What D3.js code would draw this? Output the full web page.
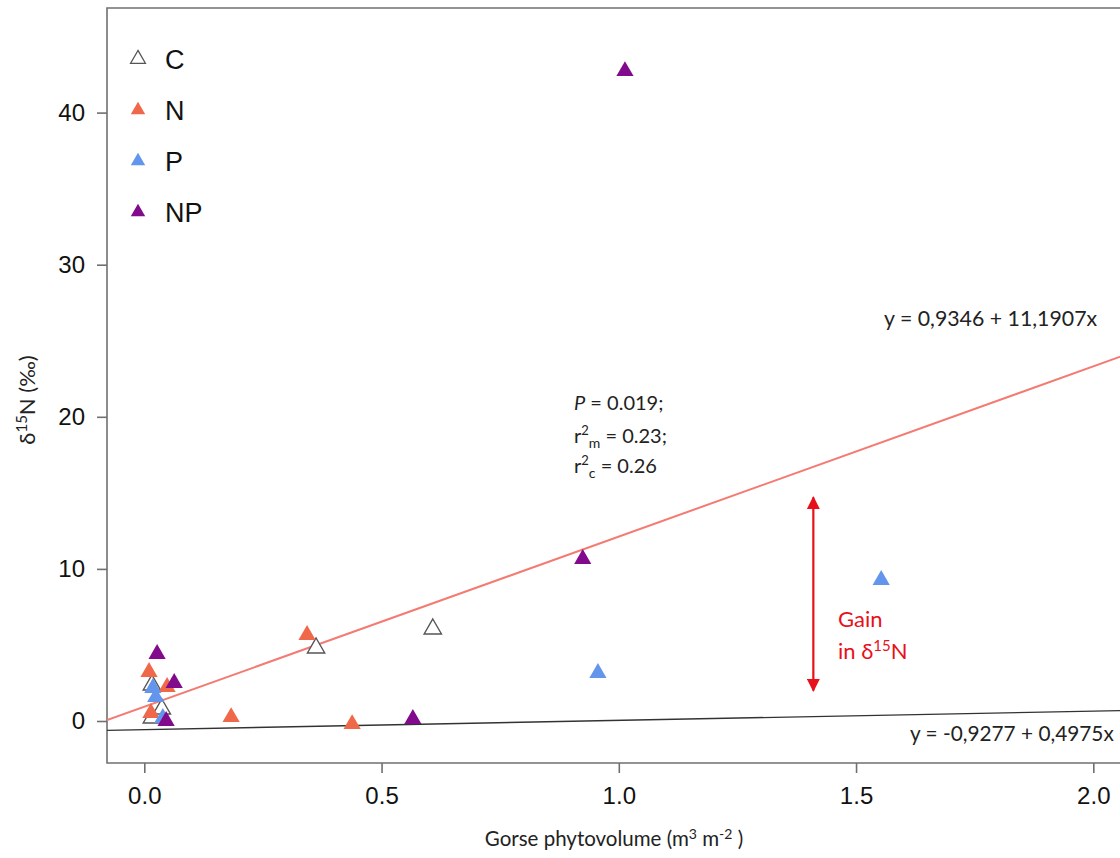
<!DOCTYPE html>
<html><head><meta charset="utf-8">
<script src="https://cdn.jsdelivr.net/npm/d3@7"></script>
<style>body{margin:0;background:#fff}svg{display:block}</style>
</head><body><svg id="c" width="1120" height="858"></svg>
<script>
// ---- data ----
const groups = ["C", "N", "P", "NP"];
const colors = ["#ffffff", "#f0684a", "#6495ed", "#820a8c"];
const cX = [0.362, 0.608, 0.016, 0.037, 0.016];
const cY = [4.93, 6.18, 2.5, 0.92, 0.33];
const nX = [0.343, 0.183, 0.438, 0.010, 0.048, 0.014];
const nY = [5.79, 0.39, -0.07, 3.35, 2.37, 0.66];
const pX = [1.553, 0.956, 0.018, 0.024, 0.039];
const pY = [9.4, 3.29, 2.3, 1.7, 0.33];
const npX = [1.013, 0.924, 0.566, 0.027, 0.063, 0.046];
const npY = [42.86, 10.78, 0.26, 4.54, 2.63, 0.13];
const xTicks = [0, 0.5, 1.0, 1.5, 2.0];
const yTicks = [0, 10, 20, 30, 40];
const fitNP = [0.9346, 11.1907];   // red fitted line (intercept, slope)
const fitC = [-0.57, 0.61];        // black line as drawn
const eqNP = "y = 0,9346 + 11,1907x";
const eqC = "y = -0,9277 + 0,4975x";
const stats = ["P = 0.019;", "r2m = 0.23;", "r2c = 0.26"];
const gainArrow = [2, 14.7];       // y extent of arrow at x=1.41

const series = [[cX, cY], [nX, nY], [pX, pY], [npX, npY]];

const svg = d3.select("#c");
const L = 107, T = 8, B = 763;
const x = d3.scaleLinear().domain([0, 2]).range([144.3, 1093.3]);
const y = d3.scaleLinear().domain([0, 40]).range([721, 112.6]);
const xMin = x.invert(L), xMax = x.invert(1140);

// frame
const frame = svg.append("g").attr("stroke", "#707070").attr("stroke-width", 1.6).attr("fill", "none");
frame.append("path").attr("d", `M1140,${T}H${L}V${B}H1140`);

// axes
const fontAx = "Liberation Sans, Arial, sans-serif";
const xa = svg.append("g").attr("transform", `translate(0,${B})`)
  .call(d3.axisBottom(x).tickValues(xTicks).tickFormat(d3.format(".1f")).tickSize(10).tickPadding(14));
const ya = svg.append("g").attr("transform", `translate(${L},0)`)
  .call(d3.axisLeft(y).tickValues(yTicks).tickSize(10).tickPadding(12));
[xa, ya].forEach(a => {
  a.select(".domain").remove();
  a.selectAll(".tick line").attr("stroke", "#707070").attr("stroke-width", 1.6);
  a.selectAll(".tick text").attr("font-family", fontAx).attr("font-size", 24).attr("fill", "#111");
});
xa.selectAll(".tick text").attr("dy", "0.71em");

// clip for plotting region
svg.append("clipPath").attr("id", "pc").append("rect").attr("x", L).attr("y", T).attr("width", 1120 - L).attr("height", B - T);
const plot = svg.append("g").attr("clip-path", "url(#pc)");

// regression lines
const line = d3.line().x(d => x(d[0])).y(d => y(d[1]));
plot.append("path").attr("d", line([xMin, xMax].map(v => [v, fitNP[0] + fitNP[1] * v])))
  .attr("stroke", "#f47a72").attr("stroke-width", 2).attr("fill", "none");
plot.append("path").attr("d", line([xMin, xMax].map(v => [v, fitC[0] + fitC[1] * v])))
  .attr("stroke", "#333").attr("stroke-width", 1.4).attr("fill", "none");

// points
const tri = d3.symbol().type(d3.symbolTriangle);
series.forEach((s, i) => {
  const pts = s[0].map((v, k) => [v, s[1][k]]);
  plot.append("g").selectAll("path").data(pts).join("path")
    .attr("transform", d => `translate(${x(d[0])},${y(d[1]) + 2})`)
    .attr("d", tri.size(i === 0 ? 130 : 128)())
    .attr("fill", colors[i])
    .attr("stroke", i === 0 ? "#555" : "none")
    .attr("stroke-width", 1.4);
});

// legend
const leg = svg.append("g");
groups.forEach((g, i) => {
  const cy = 59 + i * 51;
  leg.append("path").attr("transform", `translate(138,${cy})`).attr("d", tri.size(i === 0 ? 95 : 90)())
    .attr("fill", colors[i]).attr("stroke", i === 0 ? "#555" : "none").attr("stroke-width", 1.3);
  leg.append("text").attr("x", 165).attr("y", cy + 10).text(g)
    .attr("font-family", fontAx).attr("font-size", 27).attr("fill", "#111");
});

// annotations
const fontT = "Lato, Open Sans, sans-serif";
svg.append("text").attr("x", 884).attr("y", 326).text(eqNP).attr("font-family", fontT).attr("font-size", 21.3).attr("fill", "#222");
svg.append("text").attr("x", 910).attr("y", 741).text(eqC).attr("font-family", fontT).attr("font-size", 20.8).attr("fill", "#222");

const st = svg.append("g").attr("font-family", fontT).attr("font-size", 20).attr("fill", "#222");
const t1 = st.append("text").attr("x", 574).attr("y", 410);
t1.append("tspan").attr("font-style", "italic").text(stats[0].split(" ")[0]);
t1.append("tspan").text(" " + stats[0].split(" ").slice(1).join(" "));
[[stats[1], "m", 443], [stats[2], "c", 473]].forEach(([s, sub, yy]) => {
  const t = st.append("text").attr("x", 574).attr("y", yy);
  t.append("tspan").text("r");
  t.append("tspan").attr("font-size", 13).attr("dy", -8).text("2");
  t.append("tspan").attr("font-size", 14).attr("dx", 0).attr("dy", 13).text(sub);
  t.append("tspan").attr("dy", -5).text(" " + s.split(" ").slice(1).join(" "));
});

// gain arrow
const ax = x(1.41);
const defs = svg.append("defs");
defs.append("marker").attr("id", "ah").attr("viewBox", "0 0 10 10").attr("refX", 9).attr("refY", 5)
  .attr("markerWidth", 6).attr("markerHeight", 6).attr("orient", "auto-start-reverse")
  .append("path").attr("d", "M0,0L10,5L0,10Z").attr("fill", "#e8101a");
svg.append("line").attr("x1", ax).attr("x2", ax).attr("y1", y(gainArrow[0])).attr("y2", y(gainArrow[1]))
  .attr("stroke", "#e8101a").attr("stroke-width", 2.2)
  .attr("marker-start", "url(#ah)").attr("marker-end", "url(#ah)");
const g1 = svg.append("g").attr("font-family", fontT).attr("font-size", 22).attr("fill", "#e8101a");
g1.append("text").attr("x", 838).attr("y", 627).text("Gain");
const g2 = g1.append("text").attr("x", 838).attr("y", 659);
g2.append("tspan").text("in δ");
g2.append("tspan").attr("font-size", 15).attr("dy", -8).text("15");
g2.append("tspan").attr("dy", 8).text("N");

// axis titles
const xt = svg.append("text").attr("x", 614).attr("y", 846).attr("text-anchor", "middle")
  .attr("font-family", fontT).attr("font-size", 20.5).attr("fill", "#222");
xt.append("tspan").text("Gorse phytovolume (m");
xt.append("tspan").attr("font-size", 14).attr("dy", -7).text("3");
xt.append("tspan").attr("dy", 7).text(" m");
xt.append("tspan").attr("font-size", 14).attr("dy", -7).text("-2");
xt.append("tspan").attr("dy", 7).text(" )");

const yt = svg.append("text").attr("transform", "translate(35,400) rotate(-90)").attr("text-anchor", "middle")
  .attr("font-family", fontT).attr("font-size", 22).attr("fill", "#222");
yt.append("tspan").text("δ");
yt.append("tspan").attr("font-size", 15).attr("dy", -8).text("15");
yt.append("tspan").attr("dy", 8).text("N (‰)");
</script></body></html>
